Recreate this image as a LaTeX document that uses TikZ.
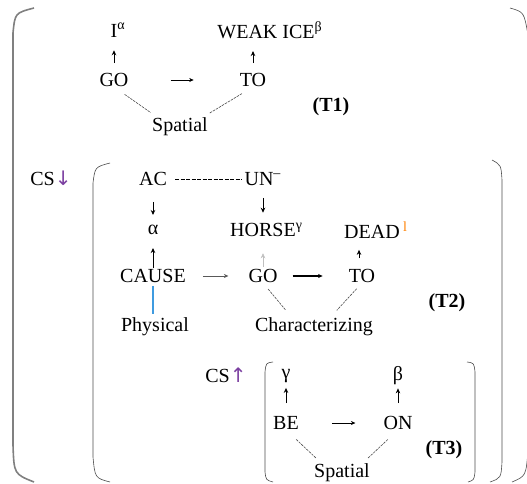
\documentclass[tikz,border=0pt]{standalone}
\usepackage{fontspec}
\setmainfont{Liberation Serif}
\newfontfamily\arrowfont{DejaVu Sans}
\usetikzlibrary{arrows.meta}

\definecolor{csarrow}{HTML}{7B3FA0}
\definecolor{physline}{HTML}{3F9BE0}

\tikzset{
  every node/.style={inner sep=0pt},
  vup/.style={-{Stealth[length=5pt,width=4.5pt]}, line width=1pt},
  hor/.style={-{Stealth[length=4.5pt,width=4pt]}, line width=0.6pt},
  rel/.style={dash pattern=on 2.5pt off 1pt, gray!60!black, line width=0.6pt, shorten <=13pt, shorten >=9pt},
  brak/.style={gray!60!black, line width=0.6pt},
  tag/.style={font=\fontsize{20}{24}\selectfont\bfseries}
}

\begin{document}
\begin{tikzpicture}[x=1pt,y=-1pt,font=\fontsize{20}{24}\selectfont]
  \useasboundingbox (0,0) rectangle (527,484);

  % brackets
  \draw[brak, line width=1.6pt, gray] (34,8) .. controls (15,13) .. (13,33) -- (13,445) .. controls (14,474) .. (34,482);
  \draw[brak] (510,8) .. controls (524,12) .. (528,35) -- (528,450) .. controls (526,476) .. (512,482);
  \draw[brak] (110,163) .. controls (95,167) .. (93,183) -- (93,457) .. controls (95,478) .. (110,482);
  \draw[brak] (492,160) .. controls (501,165) .. (502,180) -- (502,462) .. controls (501,478) .. (490,482);
  \draw[brak] (273,362) .. controls (266,363) .. (265,372) -- (265,472) .. controls (266,480) .. (273,482);
  \draw[brak] (467,362) .. controls (474,363) .. (475,372) -- (475,472) .. controls (474,480) .. (468,482);

  % T1
  \node (i1) at (114,30) {I\rlap{\textsuperscript{α}}};
  \node (weak) at (266,30) {WEAK ICE\rlap{\textsuperscript{β}}};
  \node (go1) at (114,80) {GO};
  \node (to1) at (253,80) {TO};
  \node (sp1) at (180,127) {Spatial};
  \node[tag] (t1) at (331,107) {(T1)};
  \draw[vup, shorten <=10pt, shorten >=13pt] (go1.north) -- (go1.north |- i1.south);
  \draw[vup, shorten <=10pt, shorten >=12pt] (to1.north) -- (to1.north |- weak.south);
  \draw[hor, shorten <=42pt, shorten >=46pt] (go1) -- (to1);
  \draw[rel] (go1.south) -- ([xshift=-22pt]sp1.north);
  \draw[rel] (to1.south) -- ([xshift=22pt]sp1.north);

  % T2
  \node (cs1) at (51,178) {CS{\arrowfont\color{csarrow}↓}};
  \node (ac) at (153,179) {AC};
  \node (un) at (259,179) {UN\rlap{\textsuperscript{–}}};
  \node (alpha) at (153,230) {α};
  \node (horse) at (263,230) {HORSE\rlap{\textsuperscript{γ}}};
  \node (dead) at (372,230) {DEAD\rlap{\,\textsuperscript{\color{orange}l}}};
  \node (cause) at (153,276) {CAUSE};
  \node (go2) at (263,276) {GO};
  \node (to2) at (362,276) {TO};
  \node (phys) at (155,327) {Physical};
  \node (char) at (314,327) {Characterizing};
  \node[tag] (t2) at (447,303) {(T2)};
  \draw[dash pattern=on 4pt off 1.5pt, line width=0.8pt, shorten <=8pt, shorten >=3pt] (ac) -- (un);
  \draw[vup, shorten <=16pt, shorten >=10pt] (ac.south) -- (ac.south |- alpha.north);
  \draw[vup, shorten <=1pt, shorten >=13pt] (cause.north) -- (cause.north |- alpha.south);
  \draw[vup, shorten <=12pt, shorten >=10pt] (un.south -| horse.north) -- (horse.north);
  \draw[vup, gray!50, line width=0.5pt, shorten <=2pt, shorten >=16pt] (go2.north) -- (go2.north |- horse.south);
  \draw[vup, shorten <=11pt, shorten >=11pt] ([xshift=-3pt]to2.north) -- ([xshift=-3pt]to2.north |- dead.south);
  \draw[hor, gray!70!black, shorten <=17pt, shorten >=20pt] (cause) -- (go2);
  \draw[hor, line width=1.2pt, shorten <=15pt, shorten >=26pt] (go2) -- (to2);
  \draw[draw=physline, line width=1.3pt, shorten <=3pt, shorten >=4pt] (cause.south) -- (cause.south |- phys.north);
  \draw[rel, shorten <=8pt, shorten >=10pt] (go2.south) -- ([xshift=-22pt]char.north);
  \draw[rel, shorten <=8pt, shorten >=10pt] (to2.south) -- ([xshift=16pt]char.north);

  % T3
  \node (cs2) at (226,375) {CS{\arrowfont\color{csarrow}↑}};
  \node (gamma) at (286,376) {γ};
  \node (beta) at (398,376) {β};
  \node (be) at (286,423) {BE};
  \node (on) at (398,423) {ON};
  \node (sp3) at (342,473) {Spatial};
  \node[tag] (t3) at (444,450) {(T3)};
  \draw[vup, shorten <=13pt, shorten >=5pt] (be.north) -- (be.north |- gamma.south);
  \draw[vup, shorten <=13pt, shorten >=3pt] (on.north) -- (on.north |- beta.south);
  \draw[hor, shorten <=33pt, shorten >=28pt] (be) -- (on);
  \draw[rel, shorten <=14pt, shorten >=8pt] (be.south) -- ([xshift=-20pt]sp3.north);
  \draw[rel, shorten <=14pt, shorten >=8pt] (on.south) -- ([xshift=20pt]sp3.north);
\end{tikzpicture}
\end{document}
